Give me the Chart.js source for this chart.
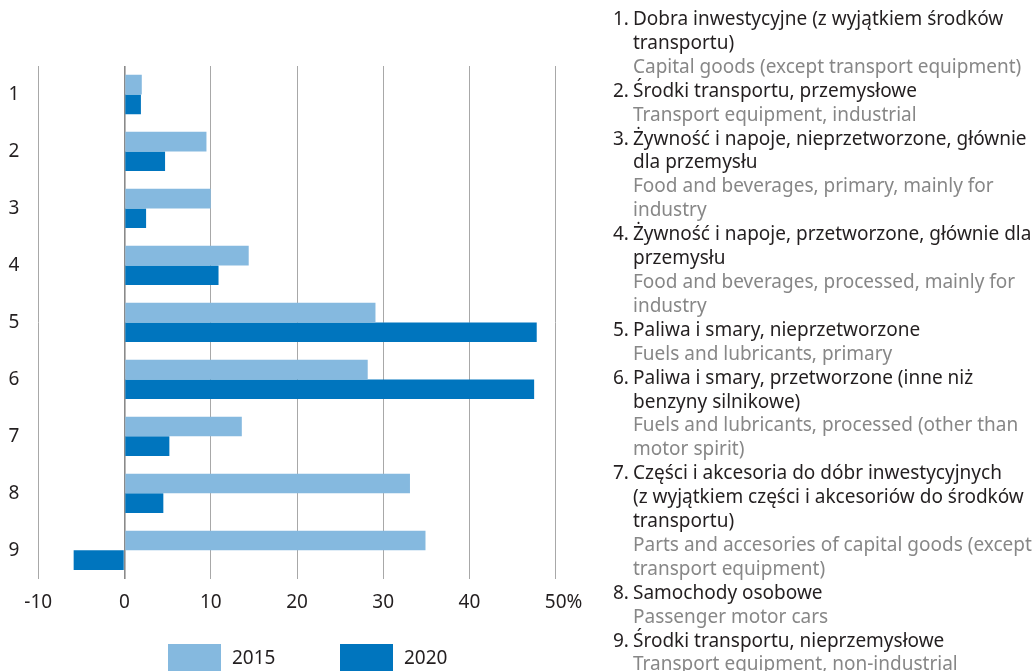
<!DOCTYPE html>
<html>
<head>
<meta charset="utf-8">
<script src="https://cdn.jsdelivr.net/npm/chart.js@4"></script>
<style>
  html, body { margin: 0; padding: 0; background: #fff; overflow: hidden; }
  body { width: 1036px; height: 671px; position: relative; font-family: "Noto Sans", sans-serif; }
  #wrap { position: absolute; left: 0; top: 0; width: 614px; height: 671px; }
  #legend { position: absolute; left: 168px; top: 644px; display: flex; }
  #legend .item { width: 172px; display: flex; align-items: flex-start; }
  #legend .swatch { width: 53px; height: 30px; margin-right: 11px; }
  #legend .txt { font-size: 19px; line-height: 26px; color: #231f20; }
  #notes {
    position: absolute; left: 613px; top: 7px; width: 430px;
    font-size: 19px; line-height: 23.9px;
    color: #231f20; white-space: nowrap;
  }
  #notes .pl { padding-left: 20px; text-indent: -20px; }
  #notes .pl span { display: inline-block; width: 20px; text-indent: 0; }
  #notes .en { padding-left: 20px; color: #878787; }
</style>
</head>
<body>
<div id="wrap"><canvas id="importChart"></canvas></div>
<div id="legend"></div>

<div id="notes">
  <div class="pl"><span>1.</span>Dobra inwestycyjne (z wyjątkiem środków<br>transportu)</div>
  <div class="en">Capital goods (except transport equipment)</div>
  <div class="pl"><span>2.</span>Środki transportu, przemysłowe</div>
  <div class="en">Transport equipment, industrial</div>
  <div class="pl"><span>3.</span>Żywność i napoje, nieprzetworzone, głównie<br>dla przemysłu</div>
  <div class="en">Food and beverages, primary, mainly for<br>industry</div>
  <div class="pl"><span>4.</span>Żywność i napoje, przetworzone, głównie dla<br>przemysłu</div>
  <div class="en">Food and beverages, processed, mainly for<br>industry</div>
  <div class="pl"><span>5.</span>Paliwa i smary, nieprzetworzone</div>
  <div class="en">Fuels and lubricants, primary</div>
  <div class="pl"><span>6.</span>Paliwa i smary, przetworzone (inne niż<br>benzyny silnikowe)</div>
  <div class="en">Fuels and lubricants, processed (other than<br>motor spirit)</div>
  <div class="pl"><span>7.</span>Części i akcesoria do dóbr inwestycyjnych<br>(z wyjątkiem części i akcesoriów do środków<br>transportu)</div>
  <div class="en">Parts and accesories of capital goods (except<br>transport equipment)</div>
  <div class="pl"><span>8.</span>Samochody osobowe</div>
  <div class="en">Passenger motor cars</div>
  <div class="pl"><span>9.</span>Środki transportu, nieprzemysłowe</div>
  <div class="en">Transport equipment, non-industrial</div>
</div>

<script>
// categories (numbered as in the list on the right)
const categories = ["1", "2", "3", "4", "5", "6", "7", "8", "9"];

// % values per year
const values2015 = [2.0, 9.5, 10.0, 14.4, 29.1, 28.2, 13.6, 33.1, 34.9];
const values2020 = [1.9, 4.7, 2.5, 10.9, 47.8, 47.5, 5.2, 4.5, -5.9];

// x axis ticks
const xTicks = [-10, 0, 10, 20, 30, 40, 50];
const unit = "%";

const LIGHT = "#85b9df";
const DARK = "#0075be";
const FONT = "'Noto Sans', sans-serif";
const FONT_SIZE = 19;
const TICK_PAD = 12;
const TEXT = "#231f20";

// legend rendered as html under the plot, built from the chart's own legend items
const htmlLegend = {
  id: "htmlLegend",
  afterUpdate(chart) {
    const box = document.getElementById("legend");
    box.innerHTML = "";
    const items = chart.options.plugins.legend.labels.generateLabels(chart);
    items.forEach((item) => {
      const el = document.createElement("div");
      el.className = "item";
      const sw = document.createElement("span");
      sw.className = "swatch";
      sw.style.background = item.fillStyle;
      const txt = document.createElement("span");
      txt.className = "txt";
      txt.textContent = item.text;
      el.appendChild(sw);
      el.appendChild(txt);
      box.appendChild(el);
    });
  },
};

// "%" sign trailing the last x tick, so the number itself stays centred on its gridline
const unitSuffix = {
  id: "unitSuffix",
  afterDraw(chart) {
    const sx = chart.scales.x;
    const last = xTicks[xTicks.length - 1];
    const c = chart.ctx;
    c.save();
    c.font = `${FONT_SIZE}px ${FONT}`;
    c.fillStyle = TEXT;
    c.textAlign = "left";
    c.textBaseline = "middle";
    const w = c.measureText(String(last)).width;
    const y = sx.top + TICK_PAD + (FONT_SIZE * 1.2) / 2;
    c.fillText(unit, sx.getPixelForValue(last) + w / 2, y);
    c.restore();
  },
};

const ctx = document.getElementById("importChart").getContext("2d");

new Chart(ctx, {
  type: "bar",
  data: {
    labels: categories,
    datasets: [
      { label: "2015", data: values2015, backgroundColor: LIGHT },
      { label: "2020", data: values2020, backgroundColor: DARK },
    ],
  },
  plugins: [htmlLegend, unitSuffix],
  options: {
    indexAxis: "y",
    responsive: true,
    maintainAspectRatio: false,
    animation: false,
    layout: { padding: { top: 66, left: 0, right: 58.3, bottom: 45.4 } },
    datasets: {
      bar: { categoryPercentage: 0.69, barPercentage: 1, borderWidth: 0 },
    },
    plugins: {
      legend: { display: false },
      tooltip: { enabled: false },
    },
    scales: {
      x: {
        min: xTicks[0],
        max: xTicks[xTicks.length - 1],
        afterBuildTicks: (scale) => {
          scale.ticks = xTicks.map((v) => ({ value: v }));
        },
        ticks: {
          padding: TICK_PAD,
          maxRotation: 0,
          color: TEXT,
          font: { family: FONT, size: FONT_SIZE },
          callback: (v) => String(v),
        },
        grid: {
          drawTicks: false,
          color: (c) => (c.tick && c.tick.value === 0 ? "#8a8a8a" : "#a8a8a8"),
          lineWidth: (c) => (c.tick && c.tick.value === 0 ? 1.6 : 1),
        },
        border: { display: false },
      },
      y: {
        afterFit: (scale) => {
          scale.width = 38.3;
        },
        ticks: {
          padding: 19,
          color: TEXT,
          font: { family: FONT, size: FONT_SIZE },
        },
        grid: { display: false, drawTicks: false },
        border: { display: false },
      },
    },
  },
});
</script>
</body>
</html>
